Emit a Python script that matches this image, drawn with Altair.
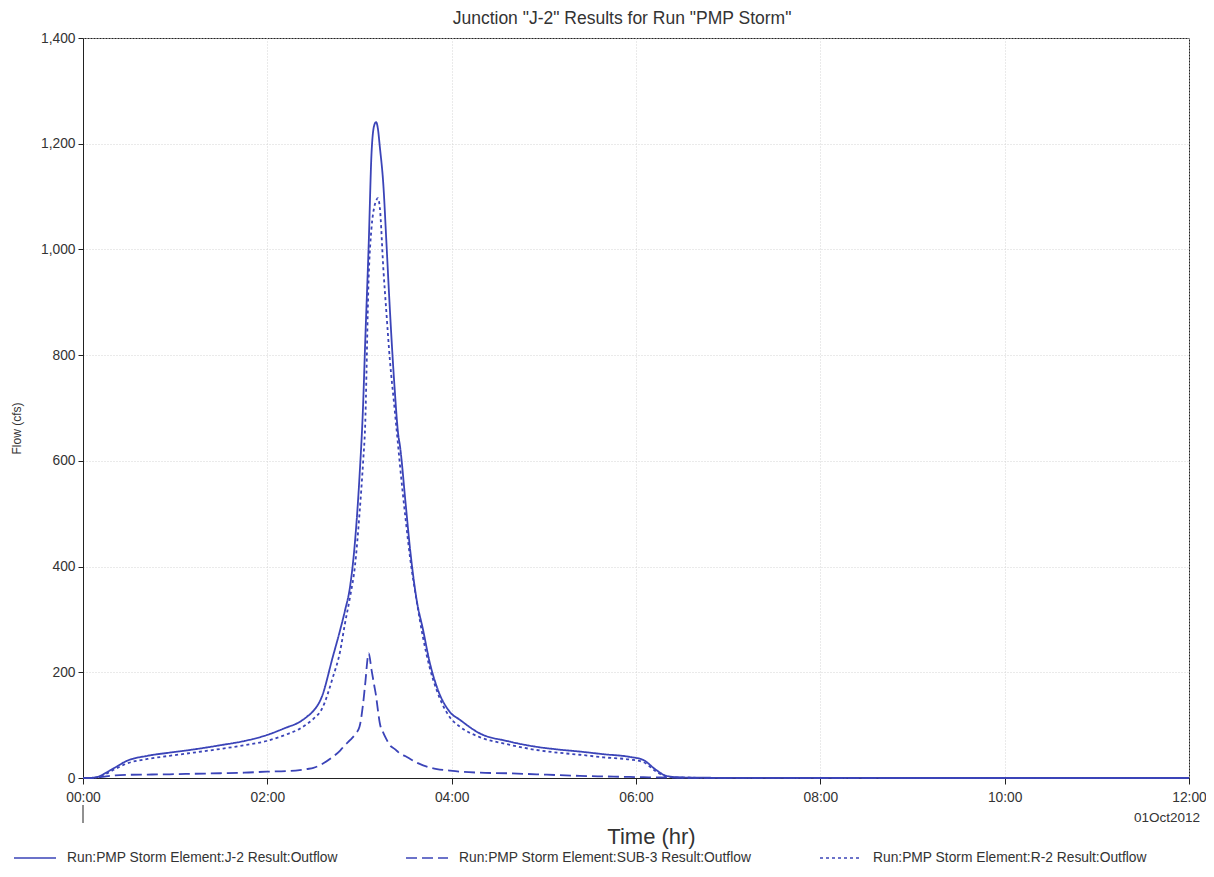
import altair as alt
import pandas as pd

# Time (hours) and flows (cfs)
time_hr = [0, 0.1, 0.16, 0.25, 0.35, 0.47, 0.7, 0.94, 1.2, 1.49,
           1.75, 1.99, 2.2, 2.35, 2.43, 2.5, 2.59, 2.71, 2.79, 2.84,
           2.9, 2.95, 3.0, 3.04, 3.06, 3.1, 3.13, 3.16, 3.18, 3.2,
           3.22, 3.26, 3.29, 3.33, 3.38, 3.42, 3.44, 3.5, 3.55, 3.62,
           3.69, 3.76, 3.84, 3.98, 4.09, 4.31, 4.6, 4.92, 5.15, 5.39,
           5.65, 5.93, 6.08, 6.22, 6.33, 6.5, 6.75, 7.0, 7.5, 8,
           10, 12]
j2_outflow = [0, 0.5, 2, 10, 20, 32, 42, 48, 54, 62,
              70, 81, 95, 106, 116, 127, 153, 229, 280, 315,
              365, 445, 570, 710, 815, 1011, 1180, 1235, 1241, 1228,
              1195, 1119, 1020, 885, 740, 650, 627, 520, 431, 337,
              280, 220, 172, 125, 110, 84, 70, 59, 54, 50,
              45, 40, 34, 15, 4, 1, 0.5, 0.3, 0.2, 0.1,
              0, 0]
sub3_outflow = [0, 0, 1, 3, 5, 6, 6.5, 7, 8, 9,
                10, 12, 13, 15, 17, 19, 26, 40, 52, 62,
                72, 82, 97, 142, 175, 236, 205, 175, 155, 128,
                104, 85, 74, 62, 55, 49, 46, 41, 36, 29,
                24, 20, 17, 14, 12, 10, 9, 7, 5.5, 4,
                3, 2, 1.5, 1, 0.8, 0.5, 0.3, 0.2, 0.1, 0,
                0, 0]
r2_outflow = [0, 0.3, 1.5, 8, 17, 27, 36, 42, 48, 55,
              62, 70, 82, 93, 102, 112, 130, 190, 240, 290,
              345, 400, 500, 600, 660, 950, 1040, 1080, 1092, 1097,
              1080, 960, 885, 790, 700, 627, 590, 490, 415, 335,
              265, 210, 165, 115, 97, 77, 64, 53, 48, 44,
              39, 35, 30, 12, 3, 0.8, 0.3, 0.2, 0.1, 0,
              0, 0]

series_names = [
    "Run:PMP Storm Element:J-2 Result:Outflow",
    "Run:PMP Storm Element:SUB-3 Result:Outflow",
    "Run:PMP Storm Element:R-2 Result:Outflow",
]
x_ticks = [0, 2, 4, 6, 8, 10, 12]
y_ticks = [0, 200, 400, 600, 800, 1000, 1200, 1400]
date_label = ["01Oct2012"]

rows = []
for name, vals in zip(series_names, [j2_outflow, sub3_outflow, r2_outflow]):
    for t, v in zip(time_hr, vals):
        rows.append({"time": t, "flow": v, "series": name})
df = pd.DataFrame(rows)

LINE = "#3b44b8"
TXT = "#333333"
FONT = "Liberation Sans"

lines = alt.Chart(df).mark_line(color=LINE, strokeWidth=1.8, interpolate="monotone").encode(
    x=alt.X("time:Q",
            scale=alt.Scale(domain=[0, 12], nice=False),
            axis=alt.Axis(values=x_ticks,
                          labelExpr="(datum.value < 10 ? '0' : '') + datum.value + ':00'",
                          title="Time (hr)", titleFontSize=22, titleFontWeight="normal",
                          titleColor=TXT, titleX=568, titleY=58, titleBaseline="middle",
                          titleAnchor="start", titleAlign="center",
                          labelFontSize=13.8, labelColor=TXT, labelPadding=6,
                          tickSize=6, tickColor="#222", domainColor="#222",
                          gridColor="#d4d4d4", gridDash=[1, 2], labelFlush=False)),
    y=alt.Y("flow:Q",
            scale=alt.Scale(domain=[0, 1400], nice=False),
            axis=alt.Axis(values=y_ticks, format=",d",
                          title="Flow (cfs)", titleFontSize=12, titleFontWeight="normal",
                          titleColor=TXT, titleX=-67, titleY=390, titleBaseline="middle",
                          titleAlign="center", titleAngle=270,
                          labelFontSize=13.8, labelColor=TXT, labelPadding=3,
                          tickSize=5, tickColor="#222", domainColor="#222",
                          gridColor="#d4d4d4", gridDash=[1, 2])),
    strokeDash=alt.StrokeDash("series:N",
                              scale=alt.Scale(domain=series_names,
                                              range=[[1, 0], [11, 5], [3, 3]]),
                              legend=alt.Legend(orient="none", legendX=-70, legendY=798,
                                                direction="horizontal", title=None,
                                                symbolType="stroke", symbolSize=1764,
                                                symbolStrokeWidth=1.5, symbolStrokeColor=LINE,
                                                labelFontSize=13.8, labelColor=TXT,
                                                labelOffset=10, columnPadding=65,
                                                labelLimit=400)),
    order=alt.Order("time:Q"),
)

date_df = pd.DataFrame({"time": [x_ticks[-1]], "flow": [y_ticks[0]], "label": date_label})
date_text = alt.Chart(date_df).mark_text(align="right", baseline="middle", dx=11, dy=40,
                                         fontSize=13.5, color=TXT, font=FONT).encode(
    x="time:Q", y="flow:Q", text="label:N")

day_tick = alt.Chart(date_df).mark_rule(color="#222", strokeWidth=1).encode(
    x="time:Q", y=alt.value(767), y2=alt.value(785)
).transform_calculate(time="0")

chart = alt.layer(lines, date_text, day_tick).properties(
    width=1106, height=740,
    padding={"left": 75, "top": 30, "right": 17, "bottom": 86},
    autosize=alt.AutoSizeParams(type="none"),
    title=alt.TitleParams('Junction "J-2" Results for Run "PMP Storm"',
                          fontSize=17.5, fontWeight="normal", color=TXT, font=FONT,
                          anchor="middle", offset=4, dx=-14),
).configure(font=FONT).configure_view(stroke="#222", strokeWidth=1)

chart.save("out.html", embed_options={"renderer": "svg", "actions": False})
